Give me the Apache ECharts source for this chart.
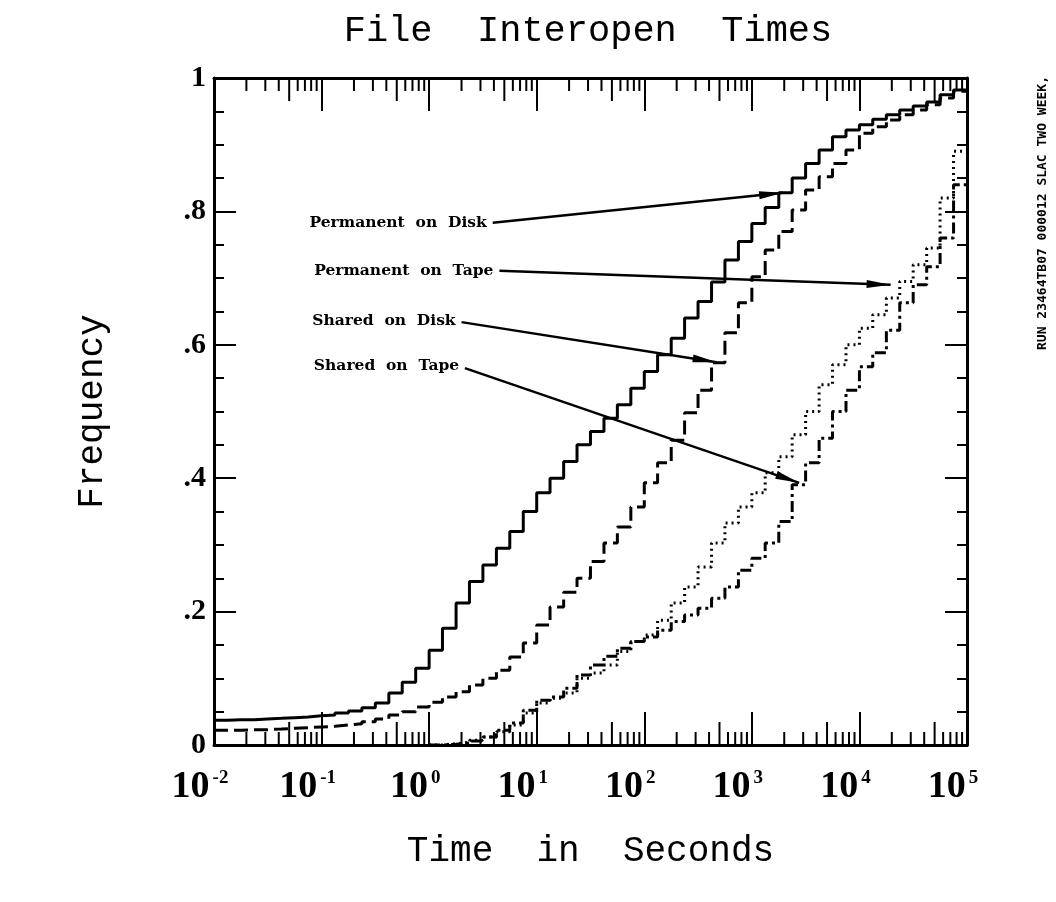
<!DOCTYPE html>
<html>
<head>
<meta charset="utf-8">
<title>File Interopen Times</title>
<script src="https://cdn.jsdelivr.net/npm/echarts@6/dist/echarts.min.js"></script>
<style>
  html, body { margin: 0; padding: 0; background: #fff; }
  #main { width: 1056px; height: 902px; }
</style>
</head>
<body>
<div id="main"></div>
<script>
// start of each histogram bin, seconds (1/8 decade wide)
var binTimes = [0.01, 0.0133, 0.0178, 0.0237, 0.0316, 0.0422, 0.0562, 0.075,
  0.1, 0.133, 0.178, 0.237, 0.316, 0.422, 0.562, 0.75,
  1, 1.33, 1.78, 2.37, 3.16, 4.22, 5.62, 7.5,
  10, 13.3, 17.8, 23.7, 31.6, 42.2, 56.2, 75,
  100, 133, 178, 237, 316, 422, 562, 750,
  1000, 1330, 1780, 2370, 3160, 4220, 5620, 7500,
  10000, 13300, 17800, 23700, 31600, 42200, 56200, 75000,
  100000];

var permDisk = [0.037, 0.038, 0.038, 0.039, 0.040, 0.041, 0.042, 0.044,
  0.045, 0.048, 0.051, 0.056, 0.063, 0.078, 0.094, 0.115,
  0.142, 0.175, 0.213, 0.245, 0.27, 0.295, 0.32, 0.35,
  0.378, 0.40, 0.425, 0.45, 0.47, 0.49, 0.51, 0.535,
  0.56, 0.585, 0.61, 0.64, 0.665, 0.694, 0.727, 0.755,
  0.782, 0.806, 0.828, 0.85, 0.872, 0.892, 0.912, 0.922,
  0.93, 0.938, 0.945, 0.952, 0.958, 0.964, 0.975, 0.982,
  0.982];

var sharedDisk = [0.022, 0.022, 0.023, 0.023, 0.024, 0.025, 0.026, 0.027,
  0.028, 0.030, 0.032, 0.035, 0.039, 0.045, 0.05, 0.057,
  0.064, 0.072, 0.08, 0.09, 0.10, 0.112, 0.132, 0.153,
  0.18, 0.207, 0.229, 0.25, 0.275, 0.303, 0.327, 0.357,
  0.393, 0.423, 0.457, 0.498, 0.532, 0.573, 0.618, 0.663,
  0.702, 0.742, 0.77, 0.802, 0.832, 0.852, 0.872, 0.892,
  0.917, 0.927, 0.937, 0.945, 0.952, 0.96, 0.97, 0.98,
  0.98];

var permTape = [null, null, null, null, null, null, null, null,
  null, null, null, null, null, null, null, null,
  0, 0.002, 0.004, 0.007, 0.012, 0.02, 0.03, 0.048,
  0.063, 0.07, 0.078, 0.1, 0.108, 0.12, 0.14, 0.155,
  0.165, 0.187, 0.213, 0.237, 0.267, 0.303, 0.333, 0.357,
  0.378, 0.408, 0.432, 0.465, 0.5, 0.54, 0.57, 0.6,
  0.625, 0.645, 0.67, 0.695, 0.72, 0.745, 0.82, 0.89,
  0.89];

var sharedTape = [null, null, null, null, null, null, null, null,
  null, null, null, null, null, null, null, null,
  0, 0.001, 0.003, 0.006, 0.012, 0.022, 0.033, 0.052,
  0.067, 0.072, 0.085, 0.105, 0.12, 0.133, 0.145, 0.155,
  0.162, 0.172, 0.185, 0.195, 0.205, 0.22, 0.237, 0.262,
  0.28, 0.303, 0.335, 0.39, 0.423, 0.46, 0.5, 0.532,
  0.567, 0.588, 0.622, 0.663, 0.69, 0.717, 0.76, 0.84,
  0.84];

var seriesNames = ['Permanent on Disk', 'Shared on Disk', 'Permanent on Tape', 'Shared on Tape'];

// arrows: label, tail [time, freq], head [time, freq]
var annoLabels = ['Permanent  on  Disk', 'Permanent  on  Tape', 'Shared  on  Disk', 'Shared  on  Tape'];
var annoFrom = [[3.9, 0.783], [4.5, 0.711], [2.0, 0.634], [2.15, 0.565]];
var annoTo = [[1950, 0.828], [19500, 0.69], [470, 0.574], [2750, 0.393]];

var tickDecades = [0.01, 0.1, 1, 10, 100, 1000, 10000];
var tickMantissas = [2, 3, 4, 5, 6, 7, 8, 9];

var minorTicks = [];
for (var i = 0; i < tickDecades.length; i++) {
  for (var j = 0; j < tickMantissas.length; j++) {
    minorTicks.push([+(tickDecades[i] * tickMantissas[j]).toPrecision(3), 0]);
  }
}

function pairs(vals) {
  var out = [];
  for (var i = 0; i < binTimes.length; i++) {
    out.push([binTimes[i], vals[i]]);
  }
  return out;
}

var annoData = [];
for (var k = 0; k < annoLabels.length; k++) {
  annoData.push([
    { name: annoLabels[k], coord: annoFrom[k], symbol: 'none' },
    { coord: annoTo[k], symbol: 'triangle', symbolSize: [8, 24], symbolOffset: [0, '50%'] }
  ]);
}

function renderMinorTick(params, api) {
  var v = api.value(0);
  var bottom = api.coord([v, 0]);
  var top = api.coord([v, 1]);
  var m = Math.round(v / Math.pow(10, Math.floor(Math.log10(v) + 1e-9)));
  var len = m === 5 ? 23 : 13;
  var st = { stroke: '#000', lineWidth: 2 };
  return {
    type: 'group',
    children: [
      { type: 'line', shape: { x1: bottom[0], y1: bottom[1], x2: bottom[0], y2: bottom[1] - len }, style: st },
      { type: 'line', shape: { x1: top[0], y1: top[1], x2: top[0], y2: top[1] + len }, style: st }
    ]
  };
}

var serifB = '"Liberation Serif", "DejaVu Serif", serif';
var typeFont = '"Liberation Mono", "DejaVu Sans Mono", monospace';

var myChart = echarts.init(document.getElementById('main'));

var xBase = {
  type: 'log',
  logBase: 10,
  min: 0.01,
  max: 100000,
  splitNumber: 7,
  axisLine: { onZero: false, lineStyle: { color: '#000', width: 3 } },
  axisTick: { inside: true, length: 33, lineStyle: { color: '#000', width: 2 } },
  splitLine: { show: false },
  minorTick: { show: false },
  minorSplitLine: { show: false }
};

var yBase = {
  type: 'value',
  min: 0,
  max: 1,
  interval: 0.2,
  axisLine: { show: true, lineStyle: { color: '#000', width: 3 } },
  axisTick: { show: true, inside: true, length: 22, lineStyle: { color: '#000', width: 2 } },
  minorTick: { show: true, splitNumber: 4, length: 10, lineStyle: { color: '#000', width: 2 } },
  splitLine: { show: false }
};

var option = {
  backgroundColor: '#fff',
  animation: false,
  grid: {
    left: 214,
    right: 89,
    top: 78,
    bottom: 157,
    containLabel: false,
    outerBoundsMode: 'none'
  },
  graphic: [
    {
      type: 'text',
      x: 588,
      y: 13,
      style: {
        text: 'File  Interopen  Times',
        font: '37px ' + typeFont,
        fill: '#000',
        textAlign: 'center'
      }
    },
    {
      type: 'text',
      x: 1043,
      y: 213,
      rotation: Math.PI / 2,
      style: {
        text: 'RUN 23464TB07 000012 SLAC TWO WEEK,',
        font: 'bold 13px "DejaVu Sans Mono", monospace',
        fill: '#000',
        textAlign: 'center',
        textVerticalAlign: 'middle'
      }
    }
  ],
  xAxis: [
    Object.assign({}, xBase, {
      position: 'bottom',
      name: 'Time  in  Seconds',
      nameLocation: 'middle',
      nameGap: 88,
      nameTextStyle: { fontFamily: typeFont, fontSize: 36, color: '#000' },
      axisLabel: {
        margin: 24,
        padding: [0, 28, 0, 0],
        formatter: function (v) {
          var e = Math.round(Math.log10(v));
          return '{b|10}{e|' + e + '}';
        },
        rich: {
          b: { fontFamily: serifB, fontWeight: 'bold', fontSize: 38, lineHeight: 36, color: '#000' },
          e: { fontFamily: serifB, fontWeight: 'bold', fontSize: 19, lineHeight: 18, verticalAlign: 'top', padding: [0, 0, 0, 3], color: '#000' }
        }
      }
    }),
    Object.assign({}, xBase, {
      position: 'top',
      axisLabel: { show: false }
    })
  ],
  yAxis: [
    Object.assign({}, yBase, {
      position: 'left',
      name: 'Frequency',
      nameLocation: 'middle',
      nameGap: 104,
      nameTextStyle: { fontFamily: typeFont, fontSize: 36, color: '#000' },
      axisLabel: {
        margin: 8,
        fontFamily: serifB,
        fontWeight: 'bold',
        fontSize: 30,
        color: '#000',
        formatter: function (v) {
          if (v === 0) return '0';
          if (v === 1) return '1';
          return v.toFixed(1).replace('0.', '.');
        }
      }
    }),
    Object.assign({}, yBase, {
      position: 'right',
      axisLabel: { show: false }
    })
  ],
  series: [
    {
      name: seriesNames[0],
      type: 'line',
      step: 'end',
      showSymbol: false,
      data: pairs(permDisk),
      lineStyle: { color: '#000', width: 3, type: 'solid' },
      markLine: {
        silent: true,
        symbol: ['none', 'triangle'],
        lineStyle: { color: '#000', width: 2.5, type: 'solid' },
        itemStyle: { color: '#000' },
        label: {
          show: true,
          position: 'start',
          distance: 6,
          formatter: '{b}',
          fontFamily: '"DejaVu Serif", serif',
          fontWeight: 'bold',
          fontSize: 15.5,
          color: '#000'
        },
        emphasis: { disabled: true },
        data: annoData
      }
    },
    {
      name: seriesNames[1],
      type: 'line',
      step: 'end',
      showSymbol: false,
      data: pairs(sharedDisk),
      lineStyle: { color: '#000', width: 3, type: [14, 6] }
    },
    {
      name: seriesNames[2],
      type: 'line',
      step: 'end',
      showSymbol: false,
      data: pairs(permTape),
      lineStyle: { color: '#000', width: 3, type: [2, 4] }
    },
    {
      name: seriesNames[3],
      type: 'line',
      step: 'end',
      showSymbol: false,
      data: pairs(sharedTape),
      lineStyle: { color: '#000', width: 3, type: [11, 4, 3, 4] }
    },
    {
      type: 'custom',
      silent: true,
      clip: false,
      renderItem: renderMinorTick,
      data: minorTicks
    }
  ]
};

myChart.setOption(option);
</script>
</body>
</html>
